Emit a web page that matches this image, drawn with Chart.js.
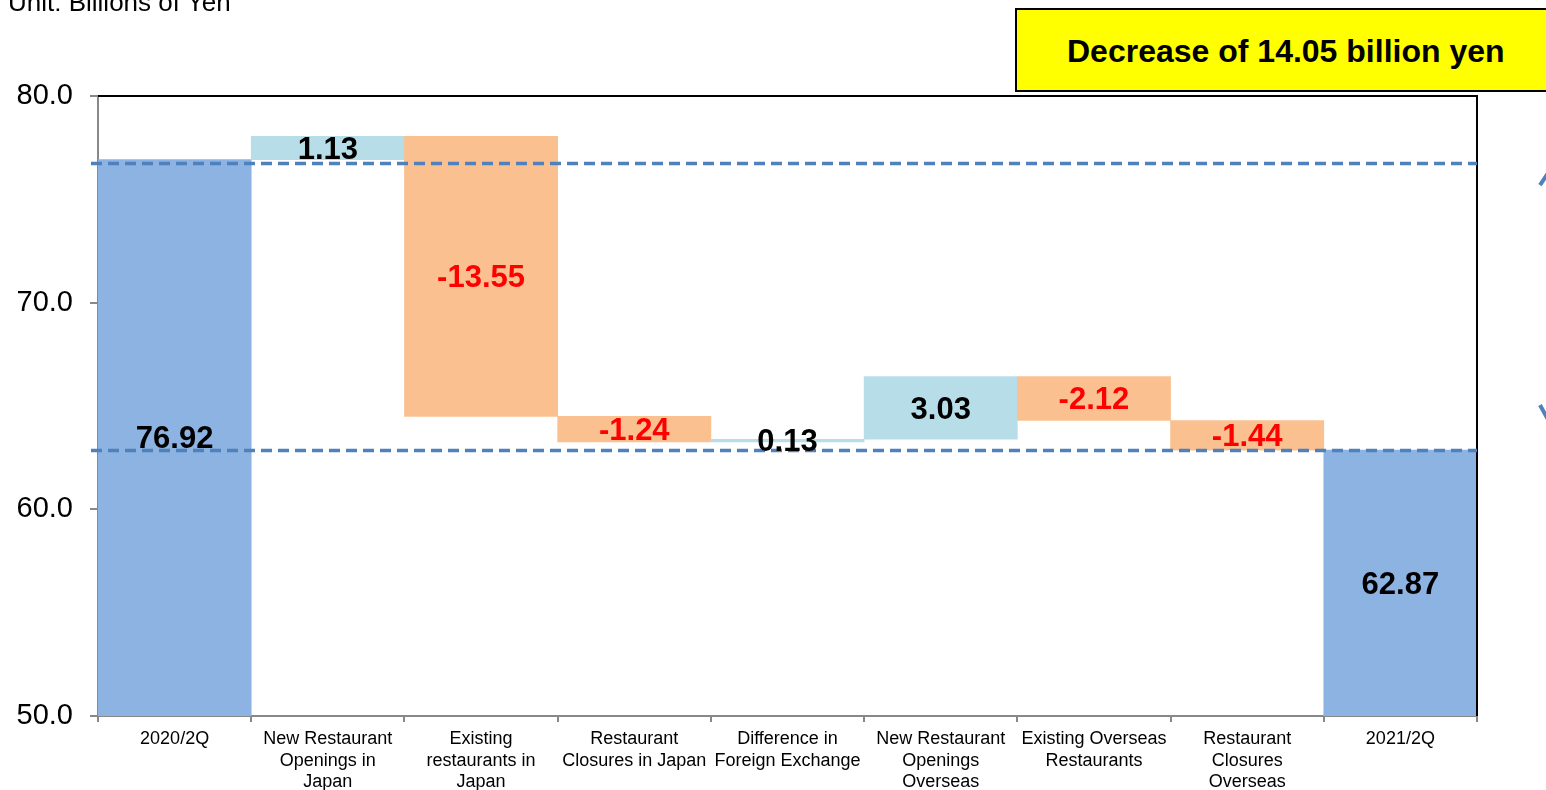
<!DOCTYPE html>
<html>
<head>
<meta charset="utf-8">
<script src="https://cdn.jsdelivr.net/npm/chart.js@4.4.1/dist/chart.umd.min.js"></script>
<style>
  html, body { margin: 0; padding: 0; background: #fff; overflow: hidden; }
  body { width: 1546px; height: 790px; position: relative; font-family: "Liberation Sans", Arial, sans-serif; }
  #wrap { position: absolute; left: 0; top: 0; width: 1546px; height: 790px; }
  #unit { position: absolute; left: 8px; top: -13px; font-size: 26px; line-height: 30px; color: #000; white-space: nowrap; }
  #note {
    position: absolute; left: 1015px; top: 8px; width: 545px; height: 84px;
    background: #ffff00; border: 2px solid #000; box-sizing: border-box;
    font-weight: bold; font-size: 32px; line-height: 82px; color: #000;
    padding-left: 50px; white-space: nowrap;
  }
</style>
</head>
<body>
<div id="wrap"><canvas id="waterfall"></canvas></div>
<div id="unit">Unit: Billions of Yen</div>
<div id="note">Decrease of 14.05 billion yen</div>
<script>
const categories = [
  '2020/2Q',
  ['New Restaurant', 'Openings in', 'Japan'],
  ['Existing', 'restaurants in', 'Japan'],
  ['Restaurant', 'Closures in Japan'],
  ['Difference in', 'Foreign Exchange'],
  ['New Restaurant', 'Openings', 'Overseas'],
  ['Existing Overseas', 'Restaurants'],
  ['Restaurant', 'Closures', 'Overseas'],
  '2021/2Q'
];
const startTotal = 76.92;
const endTotal = 62.87;
const changes = [1.13, -13.55, -1.24, 0.13, 3.03, -2.12, -1.44];
const guideLevels = [76.75, 62.87];
const yTicks = [50, 60, 70, 80];

const totalColor = '#8db3e2';
const upColor = '#b7dde8';
const downColor = '#fac090';
const guideColor = '#4f81bd';
const fontFamily = '"Liberation Sans", Arial, sans-serif';

// floating ranges for the steps, plain values for the two totals
const ranges = [startTotal];
const labels = [startTotal];
const colors = [totalColor];
let level = startTotal;
changes.forEach(c => {
  ranges.push([level, level + c]);
  labels.push(c);
  colors.push(c >= 0 ? upColor : downColor);
  level += c;
});
ranges.push(endTotal);
labels.push(endTotal);
colors.push(totalColor);

const overlay = {
  id: 'overlay',
  afterDatasetsDraw(chart) {
    const { ctx, chartArea: a, scales: { y } } = chart;
    ctx.save();

    // top and right frame
    ctx.strokeStyle = '#000';
    ctx.lineWidth = 2;
    ctx.beginPath();
    ctx.moveTo(a.left, a.top);
    ctx.lineTo(a.right, a.top);
    ctx.lineTo(a.right, a.bottom);
    ctx.stroke();

    // dashed guide lines
    ctx.strokeStyle = guideColor;
    ctx.lineWidth = 3.5;
    ctx.setLineDash([11, 6]);
    guideLevels.forEach(v => {
      const py = Math.round(y.getPixelForValue(v)) + 0.5;
      ctx.beginPath();
      ctx.moveTo(a.left - 7, py);
      ctx.lineTo(a.right, py);
      ctx.stroke();
    });
    ctx.setLineDash([]);

    // value labels in the middle of each visible bar
    ctx.font = 'bold 31px ' + fontFamily;
    ctx.textAlign = 'center';
    ctx.textBaseline = 'middle';
    chart.getDatasetMeta(0).data.forEach((bar, i) => {
      const v = labels[i];
      const lo = Math.min(bar.base, a.bottom);
      const hi = Math.max(bar.y, a.top);
      ctx.fillStyle = v < 0 ? '#ff0000' : '#000';
      ctx.fillText(v.toFixed(2), bar.x, (hi + lo) / 2 + 2);
    });

    // partial arrow at the right edge
    ctx.strokeStyle = guideColor;
    ctx.lineWidth = 4;
    const ax = a.right + 79;
    const top = y.getPixelForValue(guideLevels[0]) - 2;
    const bot = y.getPixelForValue(guideLevels[1]) - 16;
    ctx.beginPath();
    ctx.moveTo(ax - 16, top + 24);
    ctx.lineTo(ax, top);
    ctx.moveTo(ax - 16, bot - 29);
    ctx.lineTo(ax, bot);
    ctx.stroke();

    ctx.restore();
  }
};

new Chart(document.getElementById('waterfall'), {
  type: 'bar',
  data: {
    labels: categories,
    datasets: [{
      data: ranges,
      backgroundColor: colors,
      borderWidth: 0,
      barPercentage: 1,
      categoryPercentage: 1
    }]
  },
  options: {
    responsive: true,
    maintainAspectRatio: false,
    animation: false,
    layout: { padding: { top: 96, right: 69, left: 0, bottom: 0 } },
    plugins: {
      legend: { display: false },
      tooltip: { enabled: false }
    },
    scales: {
      x: {
        offset: true,
        grid: {
          offset: true,
          drawOnChartArea: false,
          drawTicks: true,
          tickLength: 6,
          color: '#888',
          lineWidth: 2
        },
        border: { color: '#888', width: 2 },
        ticks: {
          color: '#000',
          font: { family: fontFamily, size: 18, lineHeight: 1.17 },
          padding: 7,
          maxRotation: 0,
          autoSkip: false
        },
        afterFit(scale) { scale.height = 74; }
      },
      y: {
        min: 50,
        max: 80,
        afterBuildTicks(scale) { scale.ticks = yTicks.map(v => ({ value: v })); },
        grid: {
          drawOnChartArea: false,
          drawTicks: true,
          tickLength: 8,
          color: '#888',
          lineWidth: 2
        },
        border: { color: '#888', width: 2 },
        ticks: {
          color: '#000',
          font: { family: fontFamily, size: 29 },
          padding: 17,
          callback: v => Number(v).toFixed(1)
        },
        afterFit(scale) { scale.width = 98; }
      }
    }
  },
  plugins: [overlay]
});
</script>
</body>
</html>
